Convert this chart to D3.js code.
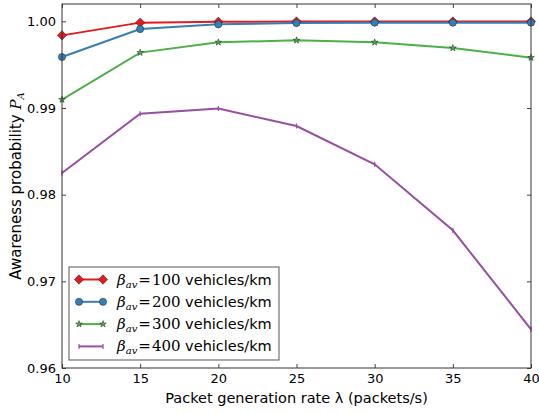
<!DOCTYPE html>
<html>
<head>
<meta charset="utf-8">
<script src="https://cdn.jsdelivr.net/npm/d3@7"></script>
<style>
  body { margin: 0; background: #fff; }
  text { font-family: "DejaVu Sans", sans-serif; }
</style>
</head>
<body>
<div id="chart"></div>
<script>
// data
const rates = [10, 15, 20, 25, 30, 35, 40]
const pa100 = [0.99838, 0.99985, 0.99995, 0.99998, 0.99998, 0.99998, 0.99998]
const pa200 = [0.99588, 0.99911, 0.99965, 0.99980, 0.99985, 0.99985, 0.99985]
const pa300 = [0.99097, 0.99639, 0.99758, 0.99781, 0.99758, 0.99692, 0.99581]
const pa400 = [0.98250, 0.98935, 0.98993, 0.98792, 0.98350, 0.97589, 0.96446]
const densities = [100, 200, 300, 400]
const xTicks = [10, 15, 20, 25, 30, 35, 40]
const yTicks = [0.96, 0.97, 0.98, 0.99, 1.00]

const series = [
  { d: densities[0], vals: pa100, color: "#e41a1c", marker: "diamond" },
  { d: densities[1], vals: pa200, color: "#377eb8", marker: "circle" },
  { d: densities[2], vals: pa300, color: "#4daf4a", marker: "star" },
  { d: densities[3], vals: pa400, color: "#984ea3", marker: "vline" }
]

const W = 539, H = 414
const margin = { top: 4, right: 8, bottom: 46, left: 62 }
const width = W - margin.left - margin.right
const height = H - margin.top - margin.bottom

const svg = d3.select("#chart").append("svg")
    .attr("width", W).attr("height", H)

const g = svg.append("g")
    .attr("transform", "translate(" + margin.left + "," + margin.top + ")")

const x = d3.scaleLinear().domain([10, 40]).range([0, width])
const y = d3.scaleLinear().domain([0.96, 1.002]).range([height, 0])

// ticks pointing inward on all four sides
const tickLen = 4
g.append("g")
    .attr("transform", `translate(0,${height})`)
    .call(d3.axisBottom(x).tickValues(xTicks).tickSizeInner(-tickLen).tickSizeOuter(0).tickPadding(6))
g.append("g")
    .call(d3.axisTop(x).tickValues(xTicks).tickSizeInner(-tickLen).tickSizeOuter(0).tickFormat(""))
g.append("g")
    .call(d3.axisLeft(y).tickValues(yTicks).tickSizeInner(-tickLen).tickSizeOuter(0).tickPadding(6).tickFormat(d3.format(".2f")))
g.append("g")
    .attr("transform", `translate(${width},0)`)
    .call(d3.axisRight(y).tickValues(yTicks).tickSizeInner(-tickLen).tickSizeOuter(0).tickFormat(""))

g.selectAll(".domain").remove()
g.selectAll(".tick line").attr("stroke", "#444")
g.selectAll(".tick text").attr("font-size", 13).attr("fill", "#000")
    .style("font-family", "'DejaVu Sans', sans-serif")

const line = d3.line()
    .x((v, i) => x(rates[i]))
    .y(v => y(v))

function drawMarker(sel, type, color, cx, cy) {
    if (type === "diamond") {
        // matplotlib 'D' : a square turned 45 degrees
        sel.append("rect").attr("x", -3.3).attr("y", -3.3).attr("width", 6.6).attr("height", 6.6)
            .attr("transform", `translate(${cx},${cy}) rotate(45)`)
            .attr("fill", color).attr("stroke", "#222").attr("stroke-width", 0.5)
    } else if (type === "circle") {
        sel.append("circle").attr("cx", cx).attr("cy", cy).attr("r", 3.6)
            .attr("fill", color).attr("stroke", "#222").attr("stroke-width", 0.5)
    } else if (type === "star") {
        sel.append("path")
            .attr("d", d3.symbol(d3.symbolStar, 14)())
            .attr("transform", `translate(${cx},${cy})`)
            .attr("fill", color).attr("stroke", "#222").attr("stroke-width", 0.5)
    } else {
        sel.append("line").attr("x1", cx).attr("x2", cx).attr("y1", cy - 2.5).attr("y2", cy + 2.5)
            .attr("stroke", color).attr("stroke-width", 1.2)
    }
}

const plot = g.append("g")
series.forEach(s => {
    plot.append("path")
        .datum(s.vals)
        .attr("fill", "none")
        .attr("stroke", s.color)
        .attr("stroke-width", 2)
        .attr("d", line)
})
series.forEach(s => {
    s.vals.forEach((v, i) => drawMarker(plot, s.marker, s.color, x(rates[i]), y(v)))
})

// frame
g.append("rect").attr("width", width).attr("height", height)
    .attr("fill", "none").attr("stroke", "#333").attr("stroke-width", 1)

// legend
const leg = g.append("g").attr("transform", "translate(7,263)")
leg.append("rect").attr("width", 210).attr("height", 93)
    .attr("fill", "#fff").attr("stroke", "#555").attr("stroke-width", 1)
series.forEach((s, i) => {
    const ly = 12.5 + i * 22.3
    const row = leg.append("g")
    row.append("line").attr("x1", 10).attr("x2", 34).attr("y1", ly).attr("y2", ly)
        .attr("stroke", s.color).attr("stroke-width", 2)
    drawMarker(row, s.marker, s.color, 10, ly)
    drawMarker(row, s.marker, s.color, 34, ly)
    const t = row.append("text").attr("x", 48).attr("y", ly + 5).attr("font-size", 15)
    t.append("tspan").style("font-family", "'DejaVu Serif', serif").attr("font-style", "italic").text("β")
    t.append("tspan").style("font-family", "'DejaVu Serif', serif").attr("font-style", "italic")
        .attr("font-size", 10).attr("dy", 3).text("av")
    t.append("tspan").style("font-family", "'DejaVu Serif', serif").attr("dy", -3).attr("dx", 1).text("=")
    t.append("tspan").style("font-family", "'DejaVu Serif', serif").attr("dx", 1).text(s.d)
    t.append("tspan").attr("font-size", 14.5).text(" vehicles/km")
})

// axis labels
svg.append("text")
    .attr("x", margin.left + width / 2).attr("y", 403)
    .attr("text-anchor", "middle").attr("font-size", 14.5)
    .text("Packet generation rate λ (packets/s)")

const yl = svg.append("text")
    .attr("transform", `translate(21,${margin.top + height / 2}) rotate(-90)`)
    .attr("text-anchor", "middle").attr("font-size", 15)
yl.append("tspan").text("Awareness probability ")
yl.append("tspan").style("font-family", "'DejaVu Serif', serif").attr("font-style", "italic").text("P")
yl.append("tspan").style("font-family", "'DejaVu Serif', serif").attr("font-style", "italic")
    .attr("font-size", 10).attr("dy", 3).text("A")
</script>
</body>
</html>
